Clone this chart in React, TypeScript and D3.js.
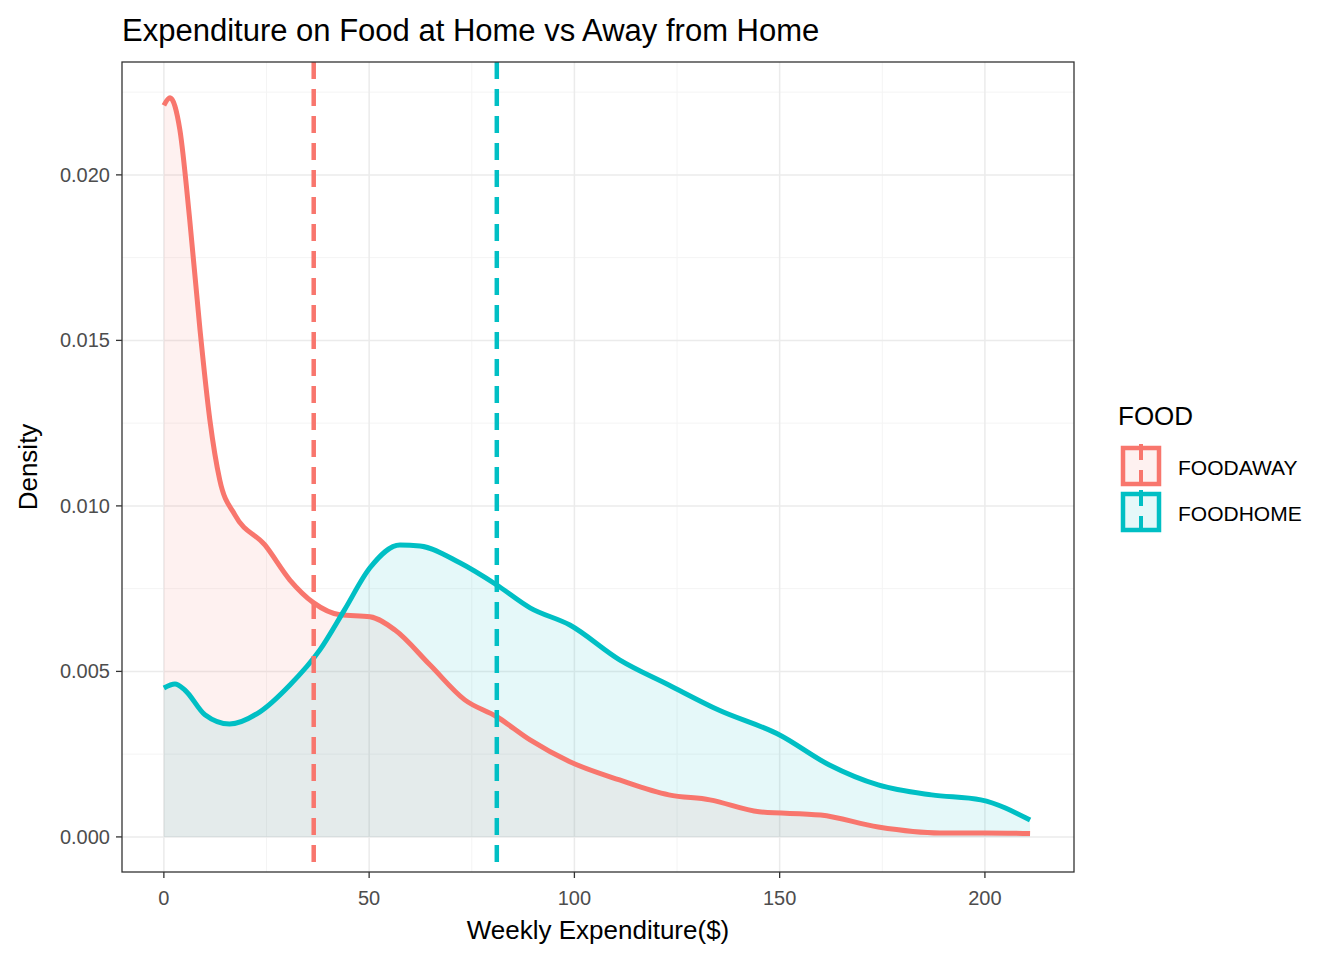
import * as d3 from "d3"

const awayX = [0, 1.5, 3.9, 6.3, 8.8, 11.2, 13.6, 17.3, 24.6, 30.7, 36.5, 42.9, 50.2, 56.3, 64.8, 73.3, 81.1, 89.2, 98.9, 111, 123, 133, 145, 160, 174, 189, 200, 211]
const awayY = [0.0221, 0.02233, 0.02136, 0.01864, 0.01532, 0.0126, 0.01079, 0.00973, 0.00882, 0.00776, 0.00707, 0.00671, 0.00665, 0.00625, 0.0052, 0.00414, 0.00363, 0.00293, 0.00227, 0.00172, 0.00127, 0.00112, 0.00076, 0.00066, 0.0003, 0.00012, 0.00012, 0.0001]
const homeX = [0, 2.7, 5.1, 10, 16, 23.4, 30.7, 38, 44, 50.2, 57.5, 62.4, 72.1, 81.1, 89.2, 98.9, 111, 123, 135, 150, 162, 174, 187, 199, 211]
const homeY = [0.0045, 0.00462, 0.00444, 0.00369, 0.00341, 0.00378, 0.00459, 0.00565, 0.00686, 0.00813, 0.00882, 0.00879, 0.00828, 0.00761, 0.00692, 0.0064, 0.00535, 0.00459, 0.00384, 0.00308, 0.00218, 0.00157, 0.00127, 0.00112, 0.00051]
const means = [{ name: "FOODAWAY", v: 36.5 }, { name: "FOODHOME", v: 81.1 }]
const xTicks = [0, 50, 100, 150, 200]
const yTicks = [0, 0.005, 0.01, 0.015, 0.02]
const RED = "#F8766D"
const CYAN = "#00BFC4"

export default function App() {
  const L = 122, R = 1074, T = 62, B = 872
  const x = d3.scaleLinear().domain([-10.2, 221.7]).range([L, R])
  const y = d3.scaleLinear().domain([-0.00106, 0.02341]).range([B, T])
  const line = (xs: number[], ys: number[]) =>
    d3.line<number>().x((_, i) => x(xs[i])).y((d) => y(d)).curve(d3.curveMonotoneX)(ys) || ""
  const area = (xs: number[], ys: number[]) =>
    d3.area<number>().x((_, i) => x(xs[i])).y0(y(0)).y1((d) => y(d)).curve(d3.curveMonotoneX)(ys) || ""
  const font = "Arial, 'Liberation Sans', sans-serif"
  const minorX = [-25, 25, 75, 125, 175].filter((v) => x(v) > L)
  const minorY = [0.0025, 0.0075, 0.0125, 0.0175, 0.0225]
  return (
    <svg width={1344} height={960} style={{ display: "block", margin: -8 }} fontFamily={font}>
      <rect width={1344} height={960} fill="white" />
      {minorX.map((v) => <line key={"mx" + v} x1={x(v)} x2={x(v)} y1={T} y2={B} stroke="#f4f4f4" strokeWidth={1} />)}
      {minorY.map((v) => <line key={"my" + v} x1={L} x2={R} y1={y(v)} y2={y(v)} stroke="#f4f4f4" strokeWidth={1} />)}
      {xTicks.map((v) => <line key={"gx" + v} x1={x(v)} x2={x(v)} y1={T} y2={B} stroke="#ebebeb" strokeWidth={1.5} />)}
      {yTicks.map((v) => <line key={"gy" + v} x1={L} x2={R} y1={y(v)} y2={y(v)} stroke="#ebebeb" strokeWidth={1.5} />)}
      <path d={area(awayX, awayY)} fill={RED} fillOpacity={0.1} />
      <path d={area(homeX, homeY)} fill={CYAN} fillOpacity={0.1} />
      <path d={line(awayX, awayY)} fill="none" stroke={RED} strokeWidth={5} />
      <path d={line(homeX, homeY)} fill="none" stroke={CYAN} strokeWidth={5} />
      {means.map((m, i) => (
        <line key={m.name} x1={x(m.v)} x2={x(m.v)} y1={T} y2={B} stroke={i ? CYAN : RED} strokeWidth={4.5} strokeDasharray="17,10" />
      ))}
      <rect x={L} y={T} width={R - L} height={B - T} fill="none" stroke="#333" strokeWidth={1.3} />
      {xTicks.map((v) => (
        <g key={"tx" + v}>
          <line x1={x(v)} x2={x(v)} y1={B} y2={B + 6} stroke="#333" strokeWidth={1.3} />
          <text x={x(v)} y={B + 33} textAnchor="middle" fontSize={20} fill="#4d4d4d">{v}</text>
        </g>
      ))}
      {yTicks.map((v) => (
        <g key={"ty" + v}>
          <line x1={L - 6} x2={L} y1={y(v)} y2={y(v)} stroke="#333" strokeWidth={1.3} />
          <text x={L - 12} y={y(v) + 7} textAnchor="end" fontSize={20} fill="#4d4d4d">{v.toFixed(3)}</text>
        </g>
      ))}
      <text x={(L + R) / 2} y={939} textAnchor="middle" fontSize={26}>Weekly Expenditure($)</text>
      <text transform={`translate(37,${(T + B) / 2}) rotate(-90)`} textAnchor="middle" fontSize={26}>Density</text>
      <text x={L} y={41} fontSize={31}>Expenditure on Food at Home vs Away from Home</text>
      <text x={1118} y={425} fontSize={26}>FOOD</text>
      {means.map((m, i) => {
        const c = i ? CYAN : RED
        const ky = 448 + i * 46
        return (
          <g key={"lg" + m.name}>
            <rect x={1123} y={ky} width={36} height={36} fill={c} fillOpacity={0.1} stroke={c} strokeWidth={4.5} />
            <line x1={1141} x2={1141} y1={ky - 4} y2={ky + 40} stroke={c} strokeWidth={4} strokeDasharray="16,10" />
            <text x={1178} y={ky + 27} fontSize={21}>{m.name}</text>
          </g>
        )
      })}
    </svg>
  )
}
